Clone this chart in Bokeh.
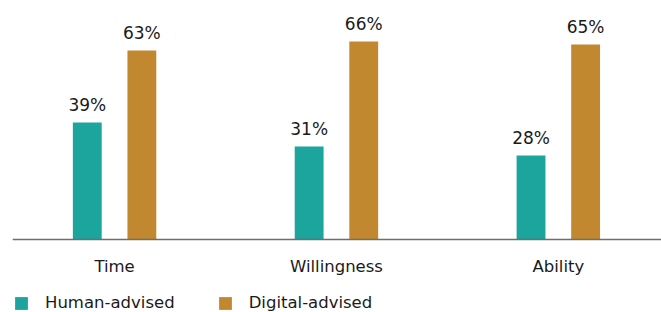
from bokeh.plotting import figure
from bokeh.models import ColumnDataSource, Legend, LegendItem, Range1d, Span
from bokeh.core.properties import value
from bokeh.embed import file_html
from bokeh.resources import INLINE

categories = ["Time", "Willingness", "Ability"]
human = [39, 31, 28]
digital = [63, 66, 65]
series_names = ["Human-advised", "Digital-advised"]
colors = ["#1BA59C", "#C1882F"]

x = list(range(len(categories)))
off = 0.123
w = 0.13

p = figure(frame_width=649, frame_height=304, output_backend="svg", toolbar_location=None,
           x_range=Range1d(-0.46, 2.465), y_range=Range1d(-24.33, 77),
           min_border_left=12, min_border_right=0, min_border_top=8, min_border_bottom=0)
p.outline_line_color = None
p.grid.visible = False
p.axis.visible = False

src_h = ColumnDataSource(dict(x=[i - off for i in x], top=human, lab=[f"{v}%" for v in human]))
src_d = ColumnDataSource(dict(x=[i + off for i in x], top=digital, lab=[f"{v}%" for v in digital]))
src_c = ColumnDataSource(dict(x=x, y=[0] * len(x), lab=categories))

rh = p.vbar(x="x", top="top", bottom=0, width=w, source=src_h, color=colors[0], line_color=None)
rd = p.vbar(x="x", top="top", bottom=0, width=w, source=src_d, color=colors[1], line_color=None)

for s in (src_h, src_d):
    p.text(x="x", y="top", text="lab", source=s, text_align="center", text_baseline="bottom",
           y_offset=-8, text_font_size="17px", text_color="#1a1a1a",
           text_font=value("DejaVu Sans"))

# baseline axis line
p.add_layout(Span(location=0, dimension="width", line_color="#6e6e6e", line_width=1.5))

# category labels
p.text(x="x", y="y", text="lab", source=src_c, text_align="center", text_baseline="middle",
       y_offset=27, text_font_size="16.5px", text_color="#1a1a1a",
       text_font=value("DejaVu Sans"))

legend = Legend(items=[LegendItem(label=series_names[0], renderers=[rh]),
                       LegendItem(label=series_names[1], renderers=[rd])],
                orientation="horizontal", location=(1, 0),
                label_text_font="DejaVu Sans", label_text_font_size="16.5px",
                label_text_color="#1a1a1a", glyph_width=16, glyph_height=16,
                label_height=16, label_text_baseline="middle",
                spacing=42, label_standoff=16, padding=0, margin=0,
                border_line_color=None, background_fill_alpha=0)
p.add_layout(legend)

open("out.html", "w").write(file_html(p, INLINE))
